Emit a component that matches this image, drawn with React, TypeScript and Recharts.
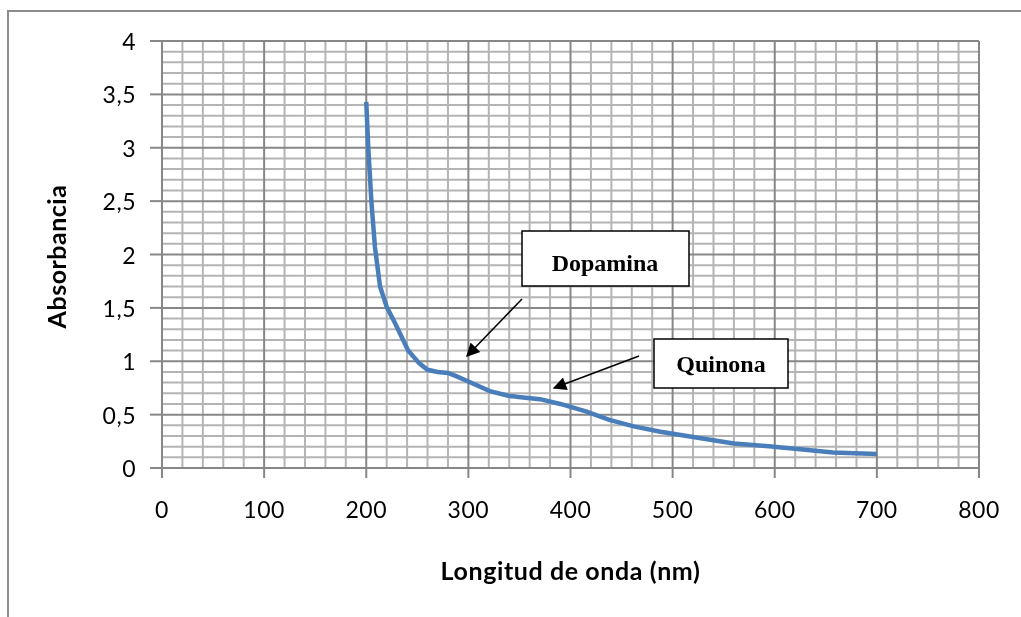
import { CartesianGrid, Label, Line, LineChart, ReferenceLine, XAxis, YAxis } from "recharts";

// wavelength (nm) and absorbance
const wavelength = [
  200, 202, 205, 208.5, 213.5, 220, 228, 241, 252, 260, 270, 280, 288, 300, 321, 340, 370,
  390, 415, 438, 462, 488, 514, 546, 560, 599, 625, 657, 700,
];
const absorbance = [
  3.43, 3.0, 2.5, 2.07, 1.7, 1.51, 1.36, 1.1, 0.98, 0.92, 0.9, 0.89, 0.86, 0.81, 0.72, 0.675,
  0.645, 0.6, 0.53, 0.45, 0.39, 0.34, 0.3, 0.25, 0.23, 0.2, 0.175, 0.145, 0.13,
];

const xTicks = [0, 100, 200, 300, 400, 500, 600, 700, 800];
const yTicks = [0, 0.5, 1, 1.5, 2, 2.5, 3, 3.5, 4];
const xMinor = Array.from({ length: 41 }, (_, i) => i * 20).filter((v) => v % 100 !== 0);
const yMinor = Array.from({ length: 41 }, (_, i) => Math.round(i * 10) / 100).filter(
  (v) => Math.round(v * 10) % 5 !== 0
);

const data = wavelength.map((x, i) => ({ x, y: absorbance[i] }));

const FONT = "Lato, 'DejaVu Sans', sans-serif";
const MINOR = "#b4b4b4";
const MAJOR = "#878787";

function YTick({ x, y, payload }: any) {
  return (
    <text
      x={x - 6}
      y={y}
      textAnchor="end"
      dominantBaseline="central"
      fill="#000"
      fontSize={23}
      fontFamily={FONT}
      letterSpacing={0.5}
    >
      {String(payload.value).replace(".", ",")}
    </text>
  );
}

function Annotations() {
  return (
    <svg
      width={1013}
      height={601}
      style={{ position: "absolute", left: 0, top: 0, pointerEvents: "none" }}
    >
      <defs>
        <marker id="head" viewBox="0 0 10 10" refX="9" refY="5" markerWidth="11" markerHeight="9" orient="auto">
          <path d="M0,0 L10,5 L0,10 z" fill="#000" />
        </marker>
      </defs>
      <rect x={514} y={223} width={167} height={55} fill="#fff" stroke="#000" strokeWidth={1.5} />
      <text
        x={597}
        y={257}
        textAnchor="middle"
        dominantBaseline="middle"
        fontFamily="'Liberation Serif', serif"
        fontWeight="bold"
        fontSize={24}
      >
        Dopamina
      </text>
      <line x1={514} y1={291} x2={459} y2={348} stroke="#000" strokeWidth={1.5} markerEnd="url(#head)" />
      <rect x={646} y={331} width={134} height={49} fill="#fff" stroke="#000" strokeWidth={1.5} />
      <text
        x={713}
        y={358}
        textAnchor="middle"
        dominantBaseline="middle"
        fontFamily="'Liberation Serif', serif"
        fontWeight="bold"
        fontSize={24}
      >
        Quinona
      </text>
      <line x1={631} y1={348} x2={546} y2={380} stroke="#000" strokeWidth={1.5} markerEnd="url(#head)" />
    </svg>
  );
}

export default function App() {
  return (
    <div style={{ position: "relative", width: 1013, height: 601 }}>
      <div
        style={{
          position: "fixed",
          left: 7,
          top: 10,
          width: 1014,
          height: 607,
          borderTop: "2px solid #8c8c8c",
          borderLeft: "2px solid #8c8c8c",
          boxSizing: "border-box",
        }}
      />
      <LineChart width={1013} height={601} data={data} margin={{ top: 33, right: 42, left: 0, bottom: 0 }}>
        <CartesianGrid stroke="none" />
        <XAxis
          dataKey="x"
          type="number"
          domain={[0, 800]}
          ticks={xTicks}
          height={141}
          tickSize={10}
          tickMargin={24}
          axisLine={{ stroke: MAJOR, strokeWidth: 2 }}
          tickLine={{ stroke: MAJOR, strokeWidth: 2 }}
          tick={{ fill: "#000", fontSize: 23, fontFamily: FONT, letterSpacing: 0.5 }}
        >
          <Label
            content={({ viewBox }: any) => (
              <text
                x={viewBox.x + viewBox.width / 2}
                y={viewBox.y + 112}
                textAnchor="middle"
                fontFamily={FONT}
                fontWeight="bold"
                fontSize={25}
                letterSpacing={0.6}
                fill="#000"
              >
                Longitud de onda (nm)
              </text>
            )}
          />
        </XAxis>
        <YAxis
          type="number"
          domain={[0, 4]}
          ticks={yTicks}
          width={154}
          tickSize={12}
          tickMargin={8}
          axisLine={{ stroke: MAJOR, strokeWidth: 2 }}
          tickLine={{ stroke: MAJOR, strokeWidth: 2 }}
          tick={<YTick />}
        >
          <Label
            content={({ viewBox }: any) => (
              <text
                x={52}
                y={viewBox.y + viewBox.height / 2 + 2}
                transform={`rotate(-90 52 ${viewBox.y + viewBox.height / 2 + 2})`}
                textAnchor="middle"
                dominantBaseline="middle"
                fontFamily={FONT}
                fontWeight="bold"
                fontSize={25}
                letterSpacing={0.5}
                fill="#000"
              >
                Absorbancia
              </text>
            )}
          />
        </YAxis>
        {xMinor.map((v) => (
          <ReferenceLine key={`xm${v}`} x={v} stroke={MINOR} strokeWidth={2} />
        ))}
        {yMinor.map((v) => (
          <ReferenceLine key={`ym${v}`} y={v} stroke={MINOR} strokeWidth={2} />
        ))}
        {xTicks.slice(1).map((v) => (
          <ReferenceLine key={`xM${v}`} x={v} stroke={MAJOR} strokeWidth={2} />
        ))}
        {yTicks.slice(1).map((v) => (
          <ReferenceLine key={`yM${v}`} y={v} stroke={MAJOR} strokeWidth={2} />
        ))}
        <Line
          dataKey="y"
          type="linear"
          stroke="#4a7ebb"
          strokeWidth={4.5}
          dot={false}
          isAnimationActive={false}
        />
      </LineChart>
      <Annotations />
    </div>
  );
}
